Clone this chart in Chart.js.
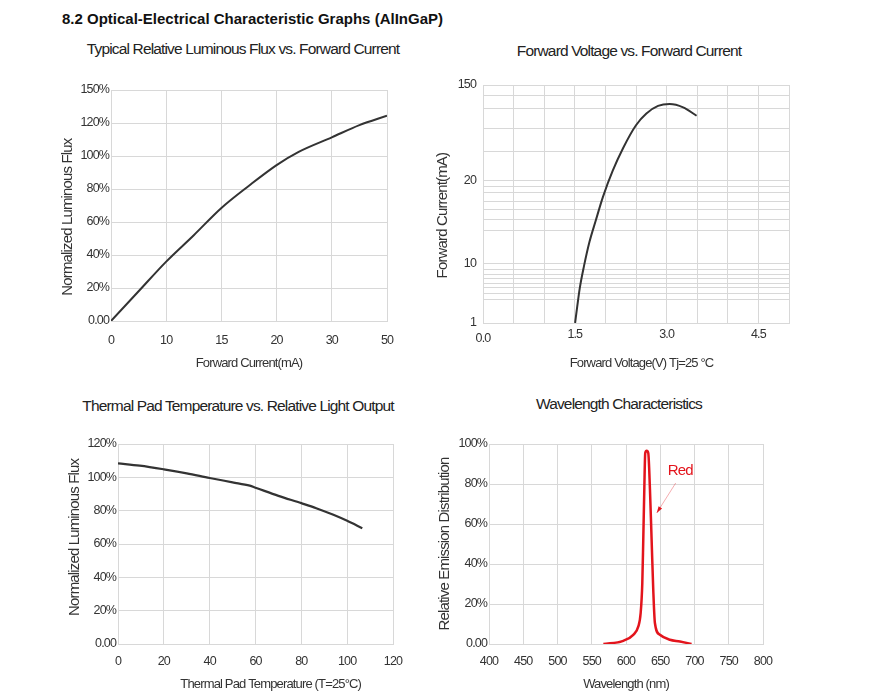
<!DOCTYPE html>
<html>
<head>
<meta charset="utf-8">
<title>Optical-Electrical Characteristic Graphs</title>
<script src="https://cdn.jsdelivr.net/npm/chart.js@4.4.1/dist/chart.umd.min.js"></script>
<style>
  html, body { margin: 0; padding: 0; background: #fff; overflow: hidden; }
  body { width: 875px; height: 693px; position: relative; font-family: 'Liberation Sans', Arial, sans-serif; }
  .head { position: absolute; left: 62px; top: 10px; line-height: 18px; font-weight: bold; font-size: 15px; color: #111; white-space: nowrap; }
  .ttl { position: absolute; width: 420px; line-height: 18px; text-align: center; font-size: 15.5px; letter-spacing: -0.85px; color: #222; white-space: nowrap; }
  .box { position: absolute; }
</style>
</head>
<body>
<div class="head">8.2 Optical-Electrical Characteristic Graphs (AlInGaP)</div>
<div class="ttl" style="left:33px;top:40px">Typical Relative Luminous Flux vs. Forward Current</div>
<div class="ttl" style="left:419px;top:42px">Forward Voltage vs. Forward Current</div>
<div class="ttl" style="left:28px;top:397px">Thermal Pad Temperature vs. Relative Light Output</div>
<div class="ttl" style="left:409px;top:395px">Wavelength Characteristics</div>
<div class="box" style="left:52px;top:30px;width:381px;height:347px"><canvas id="fluxChart"></canvas></div>
<div class="box" style="left:433px;top:30px;width:392px;height:348px"><canvas id="fvChart"></canvas></div>
<div class="box" style="left:60px;top:390px;width:355px;height:302px"><canvas id="tempChart"></canvas></div>
<div class="box" style="left:435px;top:390px;width:368px;height:302px"><canvas id="waveChart"></canvas></div>
<script>
// ── Data ────────────────────────────────────────────────────────────────
// Luminous flux vs forward current (x axis labels are not evenly spaced in mA)
const fluxXTicks = [0, 10, 15, 20, 30, 50];
const fluxYTicks = [0, 20, 40, 60, 80, 100, 120, 150];
const fluxCurrent = [0, 5, 10, 12.5, 15, 17.5, 20, 24, 30, 40, 50];
const fluxRel = [0, 18, 36, 52, 68.5, 82, 94.5, 102.5, 111.3, 118.7, 126.6];

// Forward voltage vs forward current (y axis labels sit at uneven heights)
const fvYTicks = [1, 10, 20, 150];
const fvYTickPos = [0, 25, 60, 100];
const fvYMinorPos = [9.8, 12.4, 14.8, 16.6, 18.7, 20.4, 22.5, 39, 43.6, 47.7, 50.9, 54.7, 57.2, 72.2, 81.8, 90.2, 95.5];
const fvXLabelStep = 1.5;
const fvVoltage = [1.505, 1.54, 1.58, 1.65, 1.74, 1.84, 1.96, 2.12, 2.29, 2.5, 2.67, 2.86, 3.05, 3.27, 3.49];
const fvCurrent = [1, 3.5, 6.2, 9.6, 12.6, 15.1, 18, 33, 64, 95, 111, 121.4, 124, 119.5, 108];

// Thermal pad temperature vs relative light output
const tempC = [0, 9.5, 20, 30, 40, 50, 57.5, 60, 70, 80, 86.5, 94, 100, 106.6];
const tempFlux = [108.4, 107, 104.8, 102.4, 99.6, 97, 95, 93.8, 88.9, 84.5, 81.5, 77.5, 73.9, 69.5];

// Wavelength characteristics (red)
const waveNm = [567, 596, 610.6, 618, 621.4, 623.8, 625.2, 626.7, 628.1, 630.2, 632.5, 635, 637.4, 639.8, 642.2, 649.5, 664, 678.7, 695.7];
const waveRel = [0, 1.6, 4.6, 8.8, 15.5, 30.5, 52, 77, 95.5, 96.6, 95.5, 77, 52, 27, 10.5, 4.6, 2.1, 1.3, 0];

// ── Styling ─────────────────────────────────────────────────────────────
const FONT = "'Liberation Sans', Arial, sans-serif";
const INK = '#333';
const GRID = '#d8d8d8';
const RED = '#e3141c';

Chart.defaults.font.family = FONT;
Chart.defaults.color = INK;
Chart.defaults.animation = false;

// the source PDF text is a little condensed
Chart.register({
  id: 'tightText',
  beforeDraw(chart) { chart.ctx.letterSpacing = '-0.85px'; }
});

// piecewise-linear map from a labelled value to its position on the axis
function toAxisPos(v, vals, pos) {
  for (let i = 1; i < vals.length; i++) {
    if (v <= vals[i]) return pos[i - 1] + (v - vals[i - 1]) / (vals[i] - vals[i - 1]) * (pos[i] - pos[i - 1]);
  }
  return pos[pos.length - 1];
}
const indexPos = arr => arr.map((_, i) => i);
const pctLabel = v => v === 0 ? '0.00' : v + '%';

function lineSet(xs, ys, color, width) {
  return {
    data: xs.map((x, i) => ({ x: x, y: ys[i] })),
    borderColor: color,
    borderWidth: width,
    pointRadius: 0,
    fill: false,
    cubicInterpolationMode: 'monotone'
  };
}

function axisTitle(text, size, pad) {
  return { display: true, text: text, color: INK, font: { size: size }, padding: pad };
}

function baseOptions(o) {
  return {
    responsive: true,
    maintainAspectRatio: false,
    animation: false,
    layout: { padding: { left: 0, right: o.padRight, top: o.padTop, bottom: 0 } },
    plugins: {
      legend: { display: false },
      tooltip: { enabled: false },
      title: { display: false }
    },
    scales: { x: o.x, y: o.y }
  };
}

function axis(extra) {
  return Object.assign({
    type: 'linear',
    grid: { color: GRID, drawTicks: false },
    border: { color: GRID }
  }, extra);
}

// ── Chart 1: luminous flux vs forward current ───────────────────────────
const fluxXPos = indexPos(fluxXTicks);
const fluxYPos = indexPos(fluxYTicks);
new Chart(document.getElementById('fluxChart'), {
  type: 'line',
  data: {
    datasets: [lineSet(
      fluxCurrent.map(v => toAxisPos(v, fluxXTicks, fluxXPos)),
      fluxRel.map(v => toAxisPos(v, fluxYTicks, fluxYPos)),
      INK, 2)]
  },
  options: baseOptions({
    padRight: 46, padTop: 60,
    x: axis({
      min: 0, max: fluxXTicks.length - 1,
      ticks: { stepSize: 1, padding: 12.5, maxRotation: 0, autoSkip: false, font: { size: 12.5 }, callback: v => fluxXTicks[v] },
      title: axisTitle('Forward Current(mA)', 13, { top: 0, bottom: 6 }),
      afterFit: s => { s.height = 56; }
    }),
    y: axis({
      min: 0, max: fluxYTicks.length - 1,
      ticks: { stepSize: 1, padding: 2, autoSkip: false, font: { size: 12.5 }, callback: v => pctLabel(fluxYTicks[v]) },
      title: axisTitle('Normalized Luminous Flux       ', 15, { top: 7, bottom: 0 }),
      afterFit: s => { s.width = 59; }
    })
  })
});

// ── Chart 2: forward voltage vs forward current ─────────────────────────
new Chart(document.getElementById('fvChart'), {
  type: 'line',
  data: {
    datasets: [lineSet(fvVoltage, fvCurrent.map(v => toAxisPos(v, fvYTicks, fvYTickPos)), INK, 2)]
  },
  options: baseOptions({
    padRight: 36, padTop: 55,
    x: axis({
      min: 0, max: 5,
      ticks: {
        stepSize: 0.5, padding: 4, maxRotation: 0, autoSkip: false,
        font: c => (c.tick && c.tick.value === 0) ? { size: 12.5, lineHeight: '8px' } : { size: 12.5 },
        callback: v => {
          const k = v / fvXLabelStep;
          if (Math.abs(k - Math.round(k)) > 1e-6) return '';
          return v === 0 ? ['', '0.0'] : v.toFixed(1);
        }
      },
      title: axisTitle('    Forward Voltage(V) Tj=25 °C', 13, { top: 0, bottom: 7.2 }),
      afterFit: s => { s.height = 55; }
    }),
    y: axis({
      min: 0, max: 100,
      afterBuildTicks: s => {
        s.ticks = fvYTickPos.concat(fvYMinorPos).sort((a, b) => a - b).map(v => ({ value: v }));
      },
      ticks: {
        padding: 7, autoSkip: false, font: { size: 12.5 },
        callback: v => {
          const i = fvYTickPos.indexOf(v);
          return i >= 0 ? String(fvYTicks[i]) : '';
        }
      },
      title: axisTitle('Forward Current(mA)       ', 15, { top: 1, bottom: 0 }),
      afterFit: s => { s.width = 50; }
    })
  })
});

// ── Chart 3: thermal pad temperature vs relative light output ───────────
new Chart(document.getElementById('tempChart'), {
  type: 'line',
  data: { datasets: [lineSet(tempC, tempFlux, INK, 2.2)] },
  options: baseOptions({
    padRight: 22, padTop: 54,
    x: axis({
      min: 0, max: 120,
      ticks: { stepSize: 20, padding: 10.5, maxRotation: 0, autoSkip: false, font: { size: 12.5 } },
      title: axisTitle('           Thermal Pad Temperature (T=25°C)', 13, { top: 0, bottom: 0 }),
      afterFit: s => { s.height = 48; }
    }),
    y: axis({
      min: 0, max: 120,
      ticks: { stepSize: 20, padding: 2, autoSkip: false, font: { size: 12.5 }, callback: pctLabel },
      title: axisTitle('    Normalized Luminous Flux', 15, { top: 6, bottom: 0 }),
      afterFit: s => { s.width = 58; }
    })
  })
});

// ── Chart 4: wavelength characteristics ─────────────────────────────────
const redNote = { text: 'Red', nm: 661, pct: 86.5 };
const redArrowNm = [672.6, 644.9];
const redArrowPct = [80.5, 65.5];

const redNotePlugin = {
  id: 'redNote',
  afterDatasetsDraw(chart) {
    const { ctx, scales: { x, y } } = chart;
    const x0 = x.getPixelForValue(redArrowNm[0]), y0 = y.getPixelForValue(redArrowPct[0]);
    const x1 = x.getPixelForValue(redArrowNm[1]), y1 = y.getPixelForValue(redArrowPct[1]);
    ctx.save();
    ctx.fillStyle = RED;
    ctx.font = '15px ' + FONT;
    ctx.textBaseline = 'middle';
    ctx.textAlign = 'left';
    ctx.fillText(redNote.text, x.getPixelForValue(redNote.nm), y.getPixelForValue(redNote.pct));
    // thin pointer with a small head
    ctx.strokeStyle = 'rgba(227,20,28,0.5)';
    ctx.lineWidth = 0.7;
    ctx.beginPath();
    ctx.moveTo(x0, y0);
    ctx.lineTo(x1, y1);
    ctx.stroke();
    const a = Math.atan2(y1 - y0, x1 - x0);
    ctx.beginPath();
    ctx.moveTo(x1, y1);
    ctx.lineTo(x1 - 7 * Math.cos(a - 0.3), y1 - 7 * Math.sin(a - 0.3));
    ctx.lineTo(x1 - 7 * Math.cos(a + 0.3), y1 - 7 * Math.sin(a + 0.3));
    ctx.closePath();
    ctx.fill();
    ctx.restore();
  }
};

new Chart(document.getElementById('waveChart'), {
  type: 'line',
  data: { datasets: [lineSet(waveNm, waveRel, RED, 2.5)] },
  options: baseOptions({
    padRight: 40, padTop: 54,
    x: axis({
      min: 400, max: 800,
      ticks: { stepSize: 50, padding: 10.5, maxRotation: 0, autoSkip: false, font: { size: 12.5 } },
      title: axisTitle('Wavelength (nm)', 13, { top: 0, bottom: 0 }),
      afterFit: s => { s.height = 48; }
    }),
    y: axis({
      min: 0, max: 100,
      ticks: { stepSize: 20, padding: 2, autoSkip: false, font: { size: 12.5 }, callback: pctLabel },
      title: axisTitle('Relative Emission Distribution', 15, { top: 1, bottom: 0 }),
      afterFit: s => { s.width = 54; }
    })
  }),
  plugins: [redNotePlugin]
});
</script>
</body>
</html>
